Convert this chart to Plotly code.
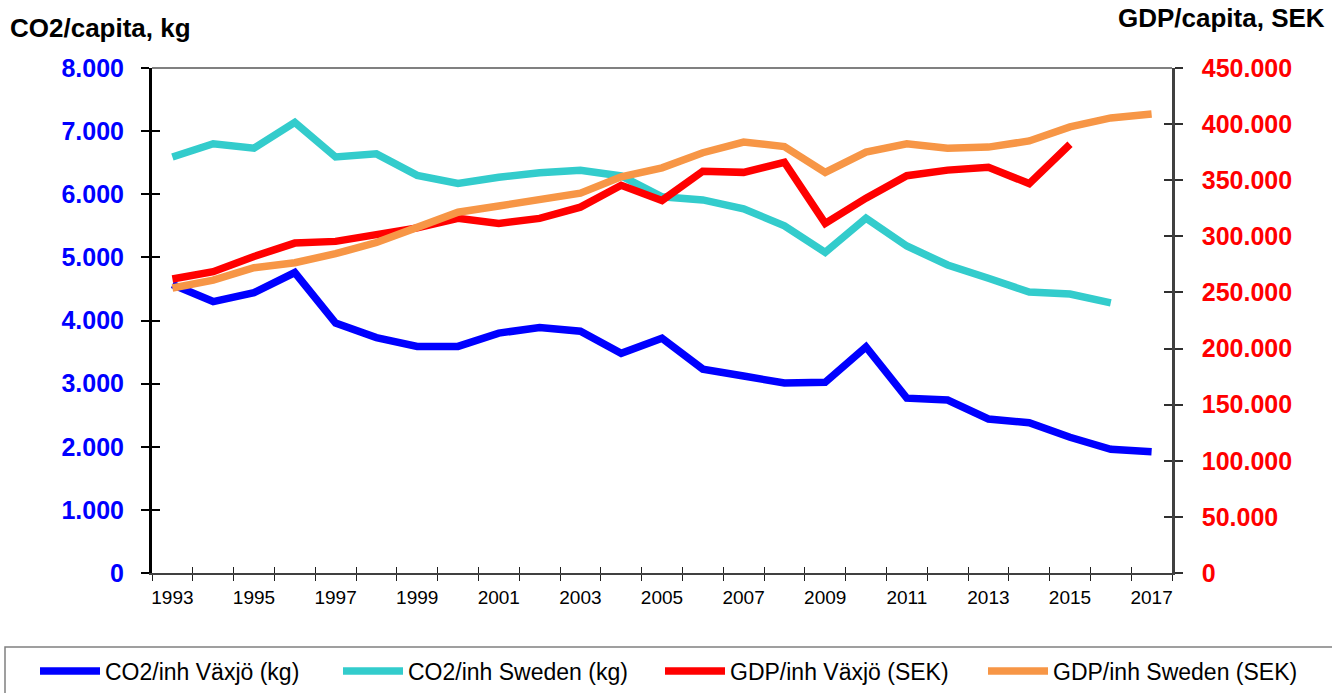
import plotly.graph_objects as go

years = list(range(1993, 2018))
co2_vaxjo = [4570, 4300, 4440, 4760, 3960, 3730, 3590, 3590, 3800, 3890, 3830, 3480, 3720,
             3230, 3120, 3010, 3020, 3580, 2770, 2740, 2440, 2380, 2150, 1960, 1920]
co2_sweden = [6590, 6800, 6730, 7140, 6590, 6640, 6300, 6170, 6270, 6340, 6380, 6290, 5960,
              5910, 5770, 5500, 5080, 5620, 5180, 4880, 4670, 4450, 4420, 4280, None]
gdp_vaxjo = [262000, 268500, 282000, 294000, 295500, 302000, 307500, 316000, 311500, 316000,
             326000, 345500, 332000, 358000, 357000, 366000, 311500, 334000, 354000, 359000,
             361500, 347000, 382000, None, None]
gdp_sweden = [254000, 261000, 272000, 276500, 284500, 294500, 308000, 321500, 327000, 332500,
              338500, 353000, 361000, 374500, 384000, 380000, 357000, 375000, 382500, 378500,
              379500, 385000, 397500, 405500, 409000]

series_names = ["CO2/inh Växjö (kg)", "CO2/inh Sweden (kg)", "GDP/inh Växjö (SEK)", "GDP/inh Sweden (SEK)"]
colors = ["#0000FF", "#33CCCC", "#FF0000", "#F79646"]

left_ticks = list(range(0, 8001, 1000))
right_ticks = list(range(0, 450001, 50000))
x_labels = [str(y) if y % 2 == 1 else "" for y in years]
boundaries = [y - 0.5 for y in years] + [years[-1] + 0.5]

FONT = "Arial, 'Liberation Sans', sans-serif"
W, H = 1332, 693
L, R, T, B = 152, 160, 68, 120
PW, PH = W - L - R, H - T - B


def px_x(p):
    return (p - L) / PW


def px_y(p):
    return (H - B - p) / PH


legend_ids = ["legend", "legend2", "legend3", "legend4"]
legend_left_px = [35, 338, 660, 983]

fig = go.Figure()
fig.add_trace(go.Scatter(x=years, y=co2_vaxjo, name=series_names[0], mode="lines",
                         line=dict(color=colors[0], width=7.5), yaxis="y", legend=legend_ids[0]))
fig.add_trace(go.Scatter(x=years, y=co2_sweden, name=series_names[1], mode="lines",
                         line=dict(color=colors[1], width=7.5), yaxis="y", legend=legend_ids[1]))
fig.add_trace(go.Scatter(x=years, y=gdp_vaxjo, name=series_names[2], mode="lines",
                         line=dict(color=colors[2], width=7.5), yaxis="y2", legend=legend_ids[2]))
fig.add_trace(go.Scatter(x=years, y=gdp_sweden, name=series_names[3], mode="lines",
                         line=dict(color=colors[3], width=7.5), yaxis="y2", legend=legend_ids[3]))
# empty helper traces so the overlay axes (inner tick halves) are drawn
fig.add_trace(go.Scatter(x=[], y=[], xaxis="x2", yaxis="y3", showlegend=False, hoverinfo="skip"))
fig.add_trace(go.Scatter(x=[], y=[], xaxis="x", yaxis="y4", showlegend=False, hoverinfo="skip"))

xrange = [years[0] - 0.5, years[-1] + 0.5]

legend_common = dict(orientation="h", xanchor="left", y=px_y(671), yanchor="middle",
                     font=dict(size=23, family=FONT, color="black"),
                     bgcolor="rgba(0,0,0,0)", borderwidth=0, itemwidth=60)

fig.update_layout(
    width=W, height=H,
    margin=dict(l=L, r=R, t=T, b=B, autoexpand=False),
    paper_bgcolor="white", plot_bgcolor="white",
    template="none",
    separators=",.",
    font=dict(family=FONT, color="black"),
    showlegend=True,
    xaxis=dict(range=xrange, tickmode="array", tickvals=years, ticktext=x_labels,
               ticks="", showgrid=False, zeroline=False, showline=True,
               linecolor="#404040", linewidth=2,
               tickfont=dict(size=19, family=FONT, color="black"),
               ticklabelstandoff=6,
               minor=dict(tickmode="array", tickvals=boundaries, ticks="outside",
                          ticklen=6, tickwidth=1, tickcolor="#202020", showgrid=False)),
    xaxis2=dict(range=xrange, overlaying="x", anchor="y", tickmode="array", tickvals=boundaries,
                ticks="inside", ticklen=6, tickwidth=1, tickcolor="#202020",
                showticklabels=False, showgrid=False, zeroline=False, showline=False),
    yaxis=dict(range=[0, 8000], tickmode="array", tickvals=left_ticks, tickformat=",d",
               ticks="outside", ticklen=8, tickwidth=2, tickcolor="black",
               showline=True, linecolor="black", linewidth=3,
               showgrid=False, zeroline=False,
               tickfont=dict(size=25, family=FONT, color="#0000FF", weight="bold"),
               ticklabelstandoff=12),
    yaxis2=dict(range=[0, 450000], overlaying="y", side="right", anchor="x", tickmode="array",
                tickvals=right_ticks, tickformat=",d",
                ticks="outside", ticklen=8, tickwidth=1.5, tickcolor="#303030",
                showline=True, linecolor="#404040", linewidth=2.5,
                showgrid=False, zeroline=False,
                tickfont=dict(size=25, family=FONT, color="#FF0000", weight="bold"),
                ticklabelstandoff=14),
    yaxis3=dict(range=[0, 8000], overlaying="y", side="left", anchor="x2", tickmode="array",
                tickvals=left_ticks, ticks="inside", ticklen=8, tickwidth=2, tickcolor="black",
                showticklabels=False, showgrid=False, zeroline=False, showline=False),
    yaxis4=dict(range=[0, 450000], overlaying="y", side="right", anchor="x", tickmode="array",
                tickvals=right_ticks, ticks="inside", ticklen=8, tickwidth=1.5, tickcolor="#303030",
                showticklabels=False, showgrid=False, zeroline=False, showline=False),
    shapes=[
        dict(type="line", xref="paper", yref="paper", x0=0, x1=1, y0=1, y1=1,
             line=dict(color="#808080", width=2)),
        dict(type="rect", xref="paper", yref="paper", x0=px_x(5), x1=px_x(1345),
             y0=px_y(647), y1=px_y(700), line=dict(color="#808080", width=1.5),
             fillcolor="rgba(0,0,0,0)", layer="below"),
    ],
    annotations=[
        dict(text="<b>CO2/capita, kg</b>", xref="paper", yref="paper", x=px_x(8), y=px_y(28),
             xanchor="left", yanchor="middle", showarrow=False,
             font=dict(size=26, family=FONT, color="black")),
        dict(text="<b>GDP/capita, SEK</b>", xref="paper", yref="paper", x=px_x(1327), y=px_y(18),
             xanchor="right", yanchor="middle", showarrow=False,
             font=dict(size=26, family=FONT, color="black")),
    ],
)
for lid, lx in zip(legend_ids, legend_left_px):
    fig.update_layout({lid: dict(legend_common, x=px_x(lx))})

fig.write_html("out.html", config={"displayModeBar": False},
               post_script="document.body.style.margin='0';document.body.style.overflow='hidden';")
